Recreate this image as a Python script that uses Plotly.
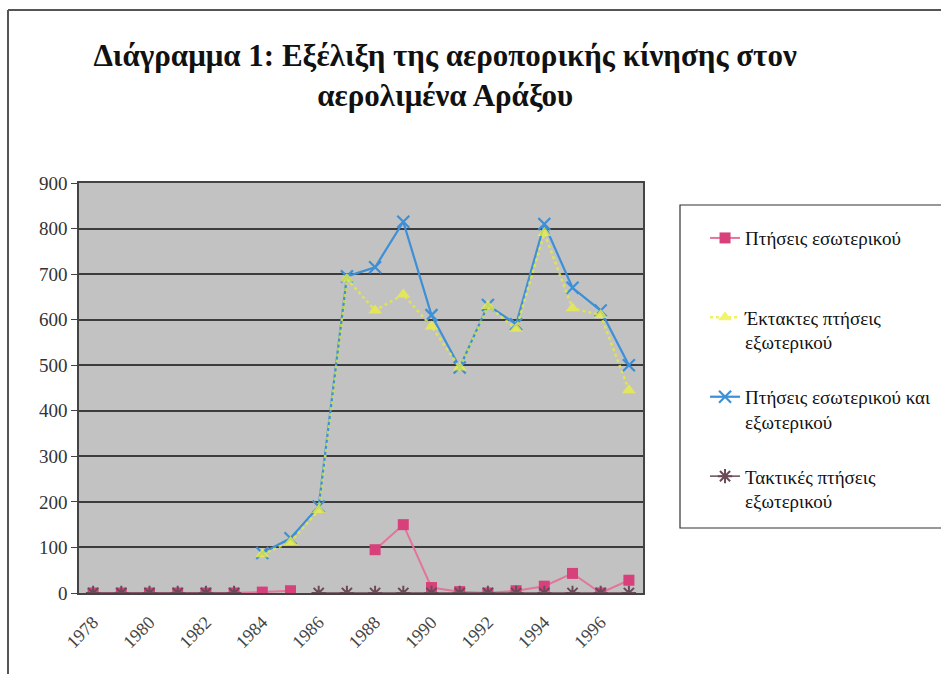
import plotly.graph_objects as go

years = list(range(1978, 1998))
tick_years = list(range(1978, 1997, 2))

# Πτήσεις εσωτερικού
domestic = [0, 0, 0, 0, 0, 0, 2, 5, None, None, 95, 150, 12, 3, 0, 5, 15, 43, 0, 28]
# Έκτακτες πτήσεις εξωτερικού
charter_intl = [None, None, None, None, None, None, 85, 112, 182, 690, 620, 655, 585, 495, 630, 580, 790, 625, 610, 445]
# Πτήσεις εσωτερικού και εξωτερικού
total = [None, None, None, None, None, None, 88, 120, 190, 695, 715, 815, 610, 495, 632, 590, 810, 670, 620, 500]
# Τακτικές πτήσεις εξωτερικού
scheduled_intl = [0, 0, 0, 0, 0, 0, None, None, 0, 0, 0, 0, 0, 0, 0, 0, 0, 0, 0, 0]

names = [
    "Πτήσεις εσωτερικού<br>\u00a0",
    "Έκτακτες πτήσεις<br>εξωτερικού",
    "Πτήσεις εσωτερικού και<br>εξωτερικού",
    "Τακτικές πτήσεις<br>εξωτερικού",
]

SERIF = "Liberation Serif, Times New Roman, serif"

fig = go.Figure()

fig.add_trace(go.Scatter(
    x=years, y=domestic, name=names[0], mode="lines+markers",
    line=dict(color="#e2769a", width=2),
    marker=dict(symbol="square", size=11, color="#d8407c"),
    legendrank=1, legendgroup="a",
))
fig.add_trace(go.Scatter(
    x=years, y=total, name=names[2], mode="lines+markers",
    line=dict(color="#3d8fd6", width=2.2),
    marker=dict(symbol="x-thin", size=12, line=dict(color="#3d8fd6", width=2.2)),
    legendrank=3, legendgroup="c",
))
fig.add_trace(go.Scatter(
    x=years, y=charter_intl, name=names[1], mode="lines+markers",
    line=dict(color="#e8f030", width=2.5, dash="dot"),
    marker=dict(symbol="triangle-up", size=12, color="#eef23c"),
    opacity=0.75,
    legendrank=2, legendgroup="b",
))
fig.add_trace(go.Scatter(
    x=years, y=scheduled_intl, name=names[3], mode="lines+markers",
    line=dict(color="#6a4a58", width=1.5),
    marker=dict(symbol="asterisk-open", size=12, line=dict(color="#7a3f58", width=2)),
    legendrank=4, legendgroup="d",
))

fig.update_layout(
    width=941, height=674,
    margin=dict(l=79, r=298, t=183, b=81, autoexpand=False),
    paper_bgcolor="white",
    plot_bgcolor="#c2c2c2",
    font=dict(family=SERIF, color="#222"),
    title=dict(
        text="<b>Διάγραμμα 1: Εξέλιξη της αεροπορικής κίνησης στον<br>αερολιμένα Αράξου</b>",
        font=dict(family=SERIF, size=31, color="#111"),
        x=0.473, xanchor="center", xref="container",
        y=1 - 66 / 674, yanchor="top", yref="container",
    ),
    showlegend=True,
    legend=dict(
        x=1.11, xanchor="left", y=0.912, yanchor="top",
        font=dict(family=SERIF, size=19, color="#111"),
        bgcolor="rgba(0,0,0,0)", borderwidth=0,
        traceorder="grouped", tracegroupgap=27, valign="top",
    ),
    xaxis=dict(
        range=[1977.5, 1997.5], tickvals=tick_years,
        ticktext=[str(y) for y in tick_years],
        tickangle=-45, showgrid=False, zeroline=False,
        showline=True, linecolor="#444", linewidth=1.5, mirror=True,
        ticks="outside", ticklen=10, tickcolor="rgba(0,0,0,0)",
        tickfont=dict(family=SERIF, size=18, color="#444"),
    ),
    yaxis=dict(
        range=[0, 900], dtick=100, tick0=0,
        showgrid=True, gridcolor="#3c3c3c", gridwidth=1.5,
        zeroline=False, showline=True, linecolor="#444", linewidth=1.5, mirror=True,
        ticks="outside", ticklen=6, tickcolor="#444",
        tickfont=dict(family=SERIF, size=19, color="#333"),
    ),
    shapes=[
        dict(type="rect", xref="paper", yref="paper",
             x0=(680 - 79) / 564, x1=1.7, y0=(593 - 528) / 410, y1=(593 - 205) / 410,
             line=dict(color="#333", width=1.2), fillcolor="rgba(0,0,0,0)"),
        dict(type="line", xref="paper", yref="paper",
             x0=(8 - 79) / 564, x1=(8 - 79) / 564, y0=-0.25, y1=(593 - 10) / 410,
             line=dict(color="#555", width=2)),
        dict(type="line", xref="paper", yref="paper",
             x0=(8 - 79) / 564, x1=1.8, y0=(593 - 10) / 410, y1=(593 - 10) / 410,
             line=dict(color="#555", width=2)),
    ],
)

fig.write_html("out.html")
